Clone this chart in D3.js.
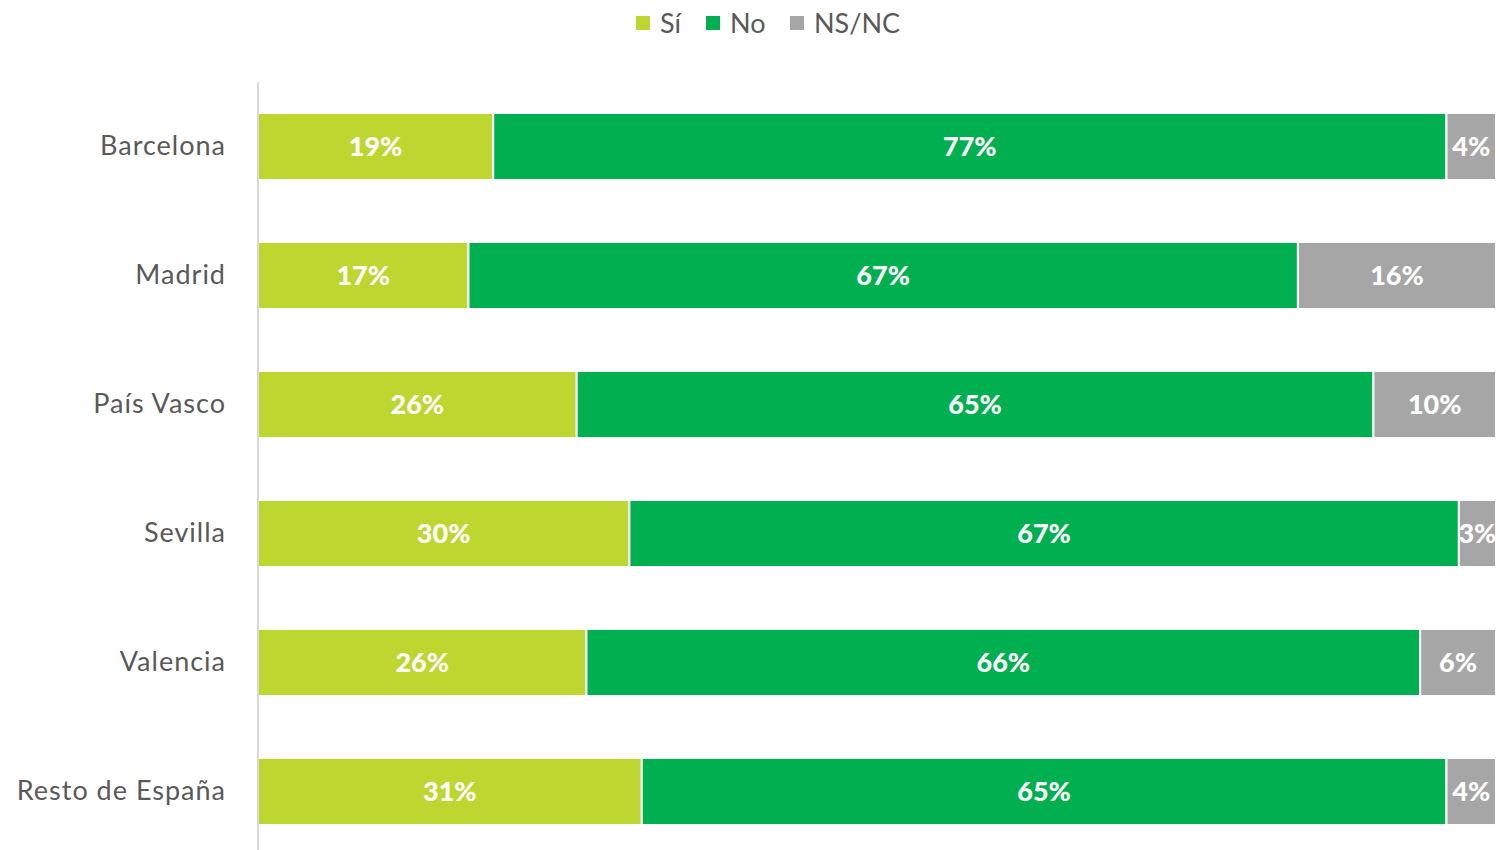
<!doctype html>
<html>
<head>
<meta charset="utf-8">
<script src="https://d3js.org/d3.v7.min.js"></script>
<style>
  body { margin: 0; background: #fff; }
  text { font-family: Lato, "Open Sans", sans-serif; }
</style>
</head>
<body>
<svg id="chart" width="1496" height="850"></svg>
<script>
// data
const regions = ["Barcelona", "Madrid", "País Vasco", "Sevilla", "Valencia", "Resto de España"];
const seriesNames = ["Sí", "No", "NS/NC"];
const si   = [19, 17, 26, 30, 26, 31];
const no   = [77, 67, 65, 67, 66, 65];
const nsnc = [4, 16, 10, 3, 6, 4];
const colors = ["#bdd630", "#00b050", "#a6a6a6"];

const rows = regions.map((r, i) => ({ region: r, "Sí": si[i], "No": no[i], "NS/NC": nsnc[i] }));

const svg = d3.select("#chart");
const plotLeft = 258, plotRight = 1496, plotTop = 82, plotBottom = 856;

const x = d3.scaleLinear().domain([0, 1]).range([plotLeft, plotRight]);
const y = d3.scaleBand().domain(regions).range([plotTop, plotBottom]).paddingInner(0.48).paddingOuter(0.24);
const color = d3.scaleOrdinal().domain(seriesNames).range(colors);

// 100% stacked, so rows that sum to 101 or 98 still fill the bar
const stacked = d3.stack().keys(seriesNames).offset(d3.stackOffsetExpand)(rows);

const groups = svg.append("g").selectAll("g").data(stacked).enter().append("g")
    .attr("fill", d => color(d.key));

groups.selectAll("rect").data(d => d.map(p => Object.assign(p, { key: d.key }))).enter().append("rect")
    .attr("x", d => x(d[0]))
    .attr("y", d => y(d.data.region))
    .attr("width", d => x(d[1]) - x(d[0]))
    .attr("height", y.bandwidth())
    .attr("stroke", "#fff")
    .attr("stroke-width", 2);

groups.selectAll("text").data(d => d).enter().append("text")
    .attr("x", d => (x(d[0]) + x(d[1])) / 2)
    .attr("y", d => y(d.data.region) + y.bandwidth() / 2)
    .attr("dy", "0.36em")
    .attr("text-anchor", "middle")
    .attr("fill", "#fff")
    .attr("font-weight", 900)
    .attr("font-size", 27)
    .text(d => d.data[d.key] + "%");

// category axis
const yAxis = svg.append("g").attr("transform", `translate(${plotLeft},0)`)
    .call(d3.axisLeft(y).tickSize(0).tickPadding(32));
yAxis.select(".domain").attr("stroke", "#d9d9d9").attr("stroke-width", 2)
    .attr("d", `M0,${plotTop}V850`);
yAxis.selectAll("text")
    .attr("font-family", "Lato, 'Open Sans', sans-serif")
    .attr("font-size", 27)
    .attr("letter-spacing", 1)
    .attr("fill", "#595959");

// legend
const legend = svg.append("g");
const legendX = [636, 706, 790];
seriesNames.forEach((s, i) => {
  const g = legend.append("g").attr("transform", `translate(${legendX[i]},0)`);
  g.append("rect").attr("x", 0).attr("y", 16).attr("width", 14).attr("height", 14).attr("fill", colors[i]);
  g.append("text").attr("x", 24).attr("y", 23).attr("dy", "0.36em")
    .attr("font-size", 27).attr("fill", "#595959").text(s);
});
</script>
</body>
</html>
